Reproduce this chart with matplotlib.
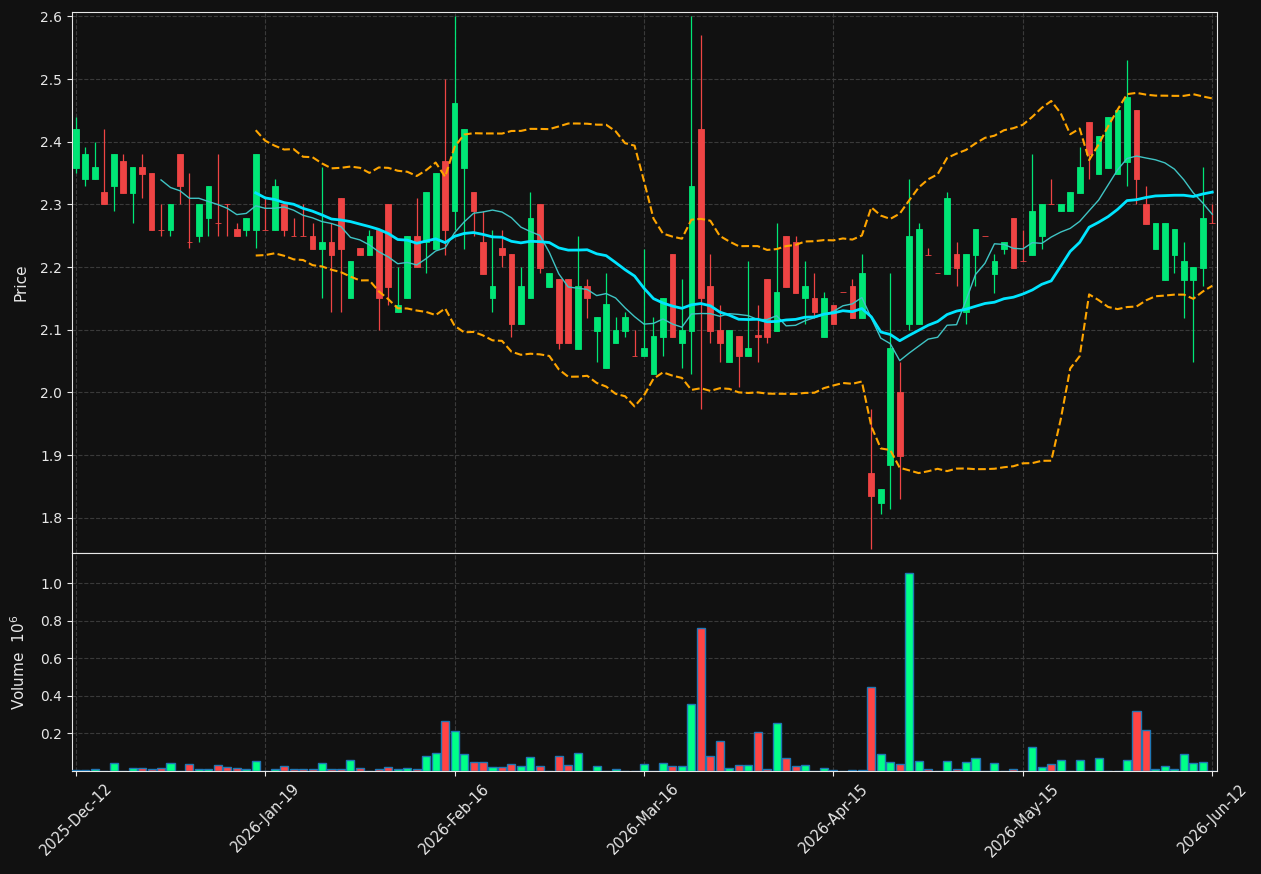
import matplotlib
matplotlib.use("Agg")
import matplotlib.pyplot as plt
from matplotlib.ticker import FormatStrFormatter
import numpy as np
import pandas as pd

# daily OHLC (one bar per session)
opens = [2.358, 2.34, 2.34, 2.32, 2.329, 2.37, 2.319, 2.36, 2.35, 2.26,
         2.26, 2.381, 2.24, 2.249, 2.279, 2.27, 2.30, 2.261, 2.26, 2.26,
         2.26, 2.26, 2.30, 2.249, 2.249, 2.25, 2.229, 2.24, 2.311, 2.15,
         2.23, 2.219, 2.26, 2.30, 2.129, 2.15, 2.25, 2.24, 2.229, 2.37,
         2.289, 2.358, 2.32, 2.24, 2.15, 2.23, 2.221, 2.109, 2.15, 2.30,
         2.168, 2.181, 2.181, 2.069, 2.17, 2.098, 2.039, 2.079, 2.098, 2.059,
         2.059, 2.03, 2.089, 2.221, 2.079, 2.098, 2.421, 2.17, 2.10, 2.049,
         2.09, 2.059, 2.092, 2.181, 2.098, 2.25, 2.24, 2.15, 2.15, 2.089,
         2.14, 2.16, 2.17, 2.119, 1.871, 1.823, 1.884, 2.00, 2.109, 2.109,
         2.22, 2.19, 2.189, 2.221, 2.129, 2.219, 2.249, 2.189, 2.229, 2.279,
         2.21, 2.219, 2.249, 2.30, 2.289, 2.289, 2.319, 2.431, 2.349, 2.358,
         2.349, 2.368, 2.451, 2.30, 2.229, 2.18, 2.219, 2.18, 2.18, 2.199,
         2.27]
highs = [2.44, 2.391, 2.40, 2.421, 2.381, 2.381, 2.36, 2.381, 2.35, 2.30,
         2.30, 2.381, 2.35, 2.30, 2.33, 2.381, 2.30, 2.27, 2.279, 2.381,
         2.31, 2.341, 2.30, 2.279, 2.30, 2.27, 2.359, 2.27, 2.311, 2.21,
         2.23, 2.26, 2.26, 2.30, 2.20, 2.25, 2.311, 2.32, 2.35, 2.50,
         2.60, 2.421, 2.32, 2.289, 2.26, 2.26, 2.221, 2.20, 2.32, 2.30,
         2.19, 2.181, 2.181, 2.25, 2.181, 2.121, 2.19, 2.12, 2.129, 2.10,
         2.229, 2.12, 2.15, 2.221, 2.181, 2.60, 2.571, 2.221, 2.14, 2.10,
         2.09, 2.21, 2.14, 2.181, 2.27, 2.25, 2.25, 2.21, 2.19, 2.161,
         2.14, 2.16, 2.181, 2.221, 1.974, 1.846, 2.19, 2.049, 2.341, 2.27,
         2.23, 2.19, 2.32, 2.24, 2.221, 2.261, 2.249, 2.221, 2.24, 2.279,
         2.26, 2.381, 2.30, 2.341, 2.30, 2.32, 2.391, 2.431, 2.409, 2.44,
         2.451, 2.531, 2.451, 2.329, 2.271, 2.271, 2.261, 2.24, 2.20, 2.359,
         2.30]
lows = [2.35, 2.329, 2.34, 2.30, 2.289, 2.319, 2.27, 2.31, 2.26, 2.25,
        2.25, 2.30, 2.23, 2.24, 2.25, 2.25, 2.25, 2.249, 2.25, 2.23,
        2.26, 2.26, 2.25, 2.249, 2.249, 2.229, 2.15, 2.129, 2.129, 2.15,
        2.219, 2.219, 2.10, 2.14, 2.129, 2.15, 2.20, 2.19, 2.229, 2.219,
        2.26, 2.229, 2.25, 2.189, 2.129, 2.20, 2.089, 2.109, 2.15, 2.19,
        2.168, 2.07, 2.079, 2.069, 2.119, 2.049, 2.039, 2.079, 2.089, 2.059,
        2.059, 2.03, 2.059, 2.089, 2.039, 2.03, 1.974, 2.079, 2.049, 2.049,
        2.009, 2.059, 2.049, 2.079, 2.098, 2.168, 2.159, 2.109, 2.119, 2.089,
        2.109, 2.16, 2.119, 2.119, 1.75, 1.806, 1.814, 1.83, 2.10, 2.109,
        2.22, 2.19, 2.189, 2.17, 2.109, 2.17, 2.249, 2.159, 2.221, 2.199,
        2.21, 2.219, 2.229, 2.30, 2.289, 2.289, 2.319, 2.341, 2.349, 2.358,
        2.349, 2.329, 2.30, 2.269, 2.229, 2.18, 2.19, 2.119, 2.049, 2.17,
        2.27]
closes = [2.421, 2.381, 2.36, 2.30, 2.381, 2.319, 2.36, 2.349, 2.26, 2.26,
          2.30, 2.329, 2.24, 2.30, 2.33, 2.27, 2.30, 2.249, 2.279, 2.381,
          2.26, 2.33, 2.26, 2.249, 2.249, 2.229, 2.24, 2.219, 2.229, 2.21,
          2.219, 2.25, 2.15, 2.168, 2.14, 2.25, 2.20, 2.32, 2.35, 2.26,
          2.461, 2.421, 2.289, 2.189, 2.17, 2.219, 2.109, 2.17, 2.279, 2.199,
          2.19, 2.079, 2.079, 2.17, 2.15, 2.121, 2.141, 2.10, 2.121, 2.059,
          2.071, 2.09, 2.15, 2.089, 2.10, 2.33, 2.15, 2.098, 2.079, 2.10,
          2.059, 2.071, 2.088, 2.089, 2.161, 2.168, 2.159, 2.17, 2.129, 2.15,
          2.109, 2.16, 2.119, 2.19, 1.835, 1.846, 2.071, 1.899, 2.25, 2.261,
          2.22, 2.19, 2.311, 2.199, 2.221, 2.261, 2.249, 2.21, 2.24, 2.199,
          2.21, 2.29, 2.30, 2.30, 2.30, 2.32, 2.36, 2.381, 2.409, 2.44,
          2.451, 2.471, 2.34, 2.269, 2.271, 2.271, 2.261, 2.21, 2.20, 2.279,
          2.27]
volumes = [5000, 3000, 9000, 2000, 41000, 2000, 14000, 14000, 9000, 14000,
           41000, 2000, 36000, 9000, 9000, 30000, 20000, 14000, 9000, 52000,
           2000, 9000, 25000, 9000, 9000, 9000, 41000, 9000, 9000, 57000,
           14000, 2000, 9000, 20000, 9000, 14000, 9000, 79000, 95000, 267000,
           213000, 90000, 47000, 47000, 20000, 20000, 36000, 25000, 73000, 25000,
           2000, 79000, 30000, 95000, 2000, 25000, 2000, 9000, 2000, 2000,
           36000, 2000, 41000, 25000, 25000, 358000, 761000, 79000, 159000, 14000,
           30000, 30000, 208000, 9000, 256000, 68000, 25000, 30000, 2000, 14000,
           5000, 2000, 3000, 3000, 449000, 90000, 47000, 36000, 1056000, 52000,
           9000, 2000, 52000, 9000, 47000, 68000, 2000, 41000, 2000, 9000,
           2000, 127000, 20000, 36000, 57000, 2000, 57000, 2000, 68000, 2000,
           2000, 57000, 320000, 218000, 9000, 25000, 9000, 90000, 41000, 47000,
           2000]
tick_labels = ["2025-Dec-12", "2026-Jan-19", "2026-Feb-16", "2026-Mar-16",
               "2026-Apr-15", "2026-May-15", "2026-Jun-12"]
tick_step = 20

bg = "#111111"
fg = "#e8e8e8"
up_c, down_c = "#00e676", "#ef4444"
vup_c, vdown_c = "#00ff88", "#ff4444"

o = np.array(opens)
h = np.array(highs)
l = np.array(lows)
c = np.array(closes)
x = np.arange(len(c))
colors = [up_c if cc > oo else down_c for oo, cc in zip(o, c)]
vcolors = [vup_c if cc > oo else vdown_c for oo, cc in zip(o, c)]

s = pd.Series(c)
ma10 = s.rolling(10).mean()
ma20 = s.rolling(20).mean()
sd20 = s.rolling(20).std(ddof=0)

fig = plt.figure(figsize=(12.61, 8.74), dpi=100, facecolor=bg)
ax = fig.add_axes([0.0571, 0.3673, 0.908, 0.6190])
axv = fig.add_axes([0.0571, 0.1178, 0.908, 0.2495], sharex=ax)

for a in (ax, axv):
    a.set_facecolor(bg)
    a.grid(True, color="#3a3a3a", linestyle="--", linewidth=0.8)
    a.set_axisbelow(True)
    for sp in a.spines.values():
        sp.set_color(fg)
    a.tick_params(colors=fg, labelsize=10)

# candles
ax.vlines(x, l, h, colors=colors, linewidth=0.9, zorder=2)
ax.bar(x, np.abs(c - o), bottom=np.minimum(o, c), width=0.6,
       color=colors, edgecolor=colors, linewidth=0.6, zorder=3)

# moving averages + bands
ax.plot(x, ma10, color="#3fc4c4", linewidth=1.0, zorder=4)
ax.plot(x, ma20, color="#00e5ff", linewidth=2.0, zorder=4)
ax.plot(x, ma20 + 2 * sd20, color="#ffa500", linewidth=1.5, linestyle="--", zorder=4)
ax.plot(x, ma20 - 2 * sd20, color="#ffa500", linewidth=1.5, linestyle="--", zorder=4)

ax.set_ylim(1.744, 2.607)
ax.set_yticks(np.arange(1.8, 2.61, 0.1))
ax.yaxis.set_major_formatter(FormatStrFormatter("%.1f"))
ax.set_ylabel("Price", color=fg, fontsize=11)
ax.yaxis.set_label_coords(-0.038, 0.5)
ax.tick_params(axis="x", labelbottom=False, length=0)

# volume
vol = np.array(volumes) / 1e6
axv.bar(x, vol, width=0.85, color=vcolors, edgecolor="#1f77b4", linewidth=1.0, zorder=3)
axv.set_ylim(0, vol.max() * 1.1)
axv.set_yticks([0.2, 0.4, 0.6, 0.8, 1.0])
axv.yaxis.set_major_formatter(FormatStrFormatter("%.1f"))
axv.set_ylabel("Volume  $10^{6}$", color=fg, fontsize=11)
axv.yaxis.set_label_coords(-0.038, 0.5)

axv.set_xlim(-0.4, len(c) - 0.5)
axv.set_xticks(np.arange(0, len(c), tick_step))
axv.set_xticklabels(tick_labels, rotation=45, fontsize=10.5)

fig.savefig("out.png", dpi=100, facecolor=bg)
